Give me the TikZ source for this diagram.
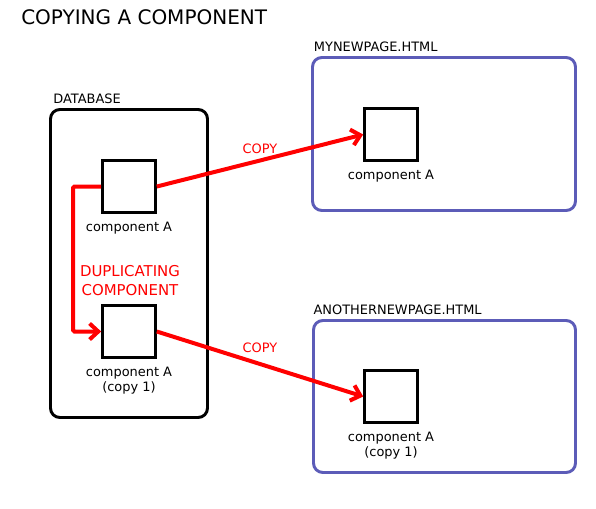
\documentclass[tikz,border=0pt]{standalone}
\usepackage{fontspec}
\setmainfont{DejaVu Sans}
\usetikzlibrary{arrows.meta}
\definecolor{bleupage}{RGB}{92,92,184}
\definecolor{rouge}{RGB}{255,0,0}
\newcommand{\petit}{\fontsize{9.7}{11.25}\selectfont}

\begin{document}
\begin{tikzpicture}[x=0.75pt,y=-0.75pt,
    comp/.style={draw,line width=2.2pt,minimum size=39.5pt,inner sep=0pt},
    legende/.style={anchor=north,align=center,inner sep=1pt,font=\petit},
    cadre/.style={draw,rounded corners=7pt,line width=2.2pt,inner sep=0pt},
    fleche/.style={draw=rouge,line width=3pt,-{Straight Barb[length=6.5pt,width=12pt]}},
    titre/.style={anchor=south west,inner sep=1pt,font=\petit}]
    \useasboundingbox (0,0) rectangle (596,508);

    % Titre
    \node[anchor=west,inner sep=0pt,font=\fontsize{15}{18}\selectfont] (titre) at (21,17) {COPYING A COMPONENT};

    % Dessine la base
    \node[cadre,minimum width=117.75pt,minimum height=231pt] (db) at (129,263.5) {};
    \node[titre] (dbnom) at ([xshift=2pt,yshift=2pt]db.north west) {DATABASE};
    \node[comp] (c1) at (129,186.5) {};
    \node[legende] (l1) at ([yshift=-4.5pt]c1.south) {component A};
    \node[comp] (c2) at (129,331.5) {};
    \node[legende] (l2) at ([yshift=-4.5pt]c2.south) {component A\\(copy 1)};

    % Dessine les pages
    \node[cadre,draw=bleupage,minimum width=197.25pt,minimum height=114.75pt] (p1) at (444,134) {};
    \node[titre] (p1nom) at ([xshift=1pt,yshift=2pt]p1.north west) {MYNEWPAGE.HTML};
    \node[comp] (c3) at (391,134.5) {};
    \node[legende] (l3) at ([yshift=-4.5pt]c3.south) {component A};

    \node[cadre,draw=bleupage,minimum width=196.5pt,minimum height=114pt] (p2) at (444.5,396.5) {};
    \node[titre] (p2nom) at ([xshift=0pt,yshift=2pt]p2.north west) {ANOTHERNEWPAGE.HTML};
    \node[comp] (c4) at (391,396.5) {};
    \node[legende] (l4) at ([yshift=-4.5pt]c4.south) {component A\\(copy 1)};

    % Dessine les flèches
    \draw[fleche,rounded corners=1pt] (c1.west) -- ++(-28,0) |- (c2.west);
    \node[rouge,align=center,font=\fontsize{11.2}{14.3}\selectfont] (dup) at (130,281) {DUPLICATING\\COMPONENT};
    \draw[fleche] (c1.east) -- (c3.west) node[midway,above=0pt,rouge,font=\petit] (copie1) {COPY};
    \draw[fleche] (c2.east) -- (c4.west) node[midway,above=3.5pt,rouge,font=\petit] (copie2) {COPY};

\end{tikzpicture}
\end{document}
